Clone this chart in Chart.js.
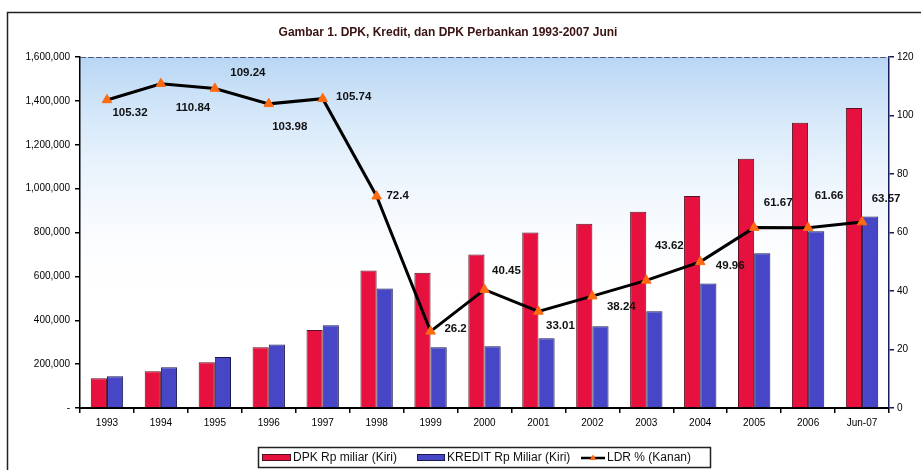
<!DOCTYPE html>
<html>
<head>
<meta charset="utf-8">
<script src="https://cdn.jsdelivr.net/npm/chart.js@4.4.1/dist/chart.umd.min.js"></script>
<style>
  html, body { margin: 0; padding: 0; background: #fff; }
  #wrap { width: 921px; height: 470px; }
</style>
</head>
<body>
<div id="wrap"><canvas id="myChart" width="921" height="470"></canvas></div>
<script>
// data
const labels = ['1993', '1994', '1995', '1996', '1997', '1998', '1999', '2000', '2001', '2002', '2003', '2004', '2005', '2006', 'Jun-07'];
const dpk = [136000, 168000, 209000, 277000, 355000, 627000, 616000, 700000, 800000, 840000, 895000, 966000, 1136000, 1300000, 1368000];
const kredit = [145000, 186000, 232000, 290000, 377000, 545000, 277000, 282000, 318000, 373000, 441000, 568000, 705000, 806000, 873000];
const ldr = [105.32, 110.84, 109.24, 103.98, 105.74, 72.4, 26.2, 40.45, 33.01, 38.24, 43.62, 49.96, 61.67, 61.66, 63.57];
const leftTicks = [0, 200000, 400000, 600000, 800000, 1000000, 1200000, 1400000, 1600000];
const rightTicks = [0, 20, 40, 60, 80, 100, 120];

// where each LDR label sits relative to its point (px)
const labelOffsets = [[23, 13], [32, 24], [33, -16], [21, 23], [31, -2], [21, 0], [25, -3], [22, -19],
                      [22, 14], [29, 11], [23, -35], [30, 4], [24, -25], [21, -32], [24, -23]];

const FONT = "'Liberation Sans', Arial, sans-serif";
const RED = '#e6113f';
const BLUE = '#4646c6';
const ORANGE = '#ff6a10';

const decoPlugin = {
    id: 'deco',
    beforeDraw(chart) {
        const ctx = chart.ctx;
        const a = chart.chartArea;
        ctx.save();
        ctx.fillStyle = '#fff';
        ctx.fillRect(0, 0, chart.width, chart.height);
        // plot background, blue at top fading out
        const g = ctx.createLinearGradient(0, a.top, 0, a.bottom);
        g.addColorStop(0, 'rgba(160,200,240,0.75)');
        g.addColorStop(0.25, 'rgba(200,225,248,0.55)');
        g.addColorStop(0.5, 'rgba(235,243,252,0.3)');
        g.addColorStop(0.7, 'rgba(255,255,255,0)');
        ctx.fillStyle = g;
        ctx.fillRect(a.left, a.top, a.right - a.left, a.bottom - a.top);
        // outer frame
        ctx.strokeStyle = '#222';
        ctx.lineWidth = 1.5;
        ctx.beginPath();
        ctx.moveTo(7.5, chart.height);
        ctx.lineTo(7.5, 12.5);
        ctx.lineTo(chart.width, 12.5);
        ctx.stroke();
        ctx.restore();
    },
    afterDraw(chart) {
        const ctx = chart.ctx;
        const a = chart.chartArea;
        ctx.save();
        // top edge of plot
        ctx.strokeStyle = '#4a5a78';
        ctx.lineWidth = 1.2;
        ctx.setLineDash([6, 2]);
        ctx.beginPath();
        ctx.moveTo(a.left, a.top + 0.5);
        ctx.lineTo(a.right, a.top + 0.5);
        ctx.stroke();
        ctx.setLineDash([]);

        // title
        ctx.fillStyle = '#3a1212';
        ctx.font = `bold 12px ${FONT}`;
        ctx.textAlign = 'center';
        ctx.textBaseline = 'middle';
        ctx.fillText('Gambar 1. DPK, Kredit, dan DPK Perbankan 1993-2007 Juni', 448, 33);

        // legend
        ctx.strokeStyle = '#222';
        ctx.lineWidth = 1.5;
        ctx.strokeRect(258.5, 447.5, 452, 20);
        ctx.font = `12px ${FONT}`;
        ctx.textAlign = 'left';
        ctx.lineWidth = 1;
        ctx.fillStyle = RED;
        ctx.fillRect(262, 454, 28, 6);
        ctx.strokeStyle = '#501020';
        ctx.strokeRect(262.5, 454.5, 28, 6);
        ctx.fillStyle = '#111';
        ctx.fillText('DPK Rp miliar (Kiri)', 293, 458);
        ctx.fillStyle = BLUE;
        ctx.fillRect(417, 454, 27, 6);
        ctx.strokeStyle = '#1a1a50';
        ctx.strokeRect(417.5, 454.5, 27, 6);
        ctx.fillStyle = '#111';
        ctx.fillText('KREDIT Rp Miliar (Kiri)', 447, 458);
        ctx.strokeStyle = '#000';
        ctx.lineWidth = 2.5;
        ctx.beginPath();
        ctx.moveTo(581, 458);
        ctx.lineTo(605, 458);
        ctx.stroke();
        ctx.fillStyle = ORANGE;
        ctx.beginPath();
        ctx.moveTo(593, 454.5);
        ctx.lineTo(596.5, 460);
        ctx.lineTo(589.5, 460);
        ctx.closePath();
        ctx.fill();
        ctx.fillStyle = '#111';
        ctx.fillText('LDR % (Kanan)', 607, 458);
        ctx.restore();
    },
    afterDatasetsDraw(chart) {
        const ctx = chart.ctx;
        const meta = chart.getDatasetMeta(2);
        ctx.save();
        ctx.font = `bold 11.5px ${FONT}`;
        ctx.fillStyle = '#111';
        ctx.textAlign = 'center';
        ctx.textBaseline = 'middle';
        meta.data.forEach((pt, i) => {
            const off = labelOffsets[i];
            ctx.fillText(String(ldr[i]), pt.x + off[0], pt.y + off[1]);
        });
        ctx.restore();
    }
};

const tickFont = { family: FONT, size: 10 };

const ctx = document.getElementById('myChart').getContext('2d');
const myChart = new Chart(ctx, {
    data: {
        labels: labels,
        datasets: [{
            type: 'bar',
            label: 'DPK Rp miliar (Kiri)',
            data: dpk,
            backgroundColor: RED,
            borderColor: '#5a1020',
            borderWidth: 1,
            yAxisID: 'y',
            categoryPercentage: 0.6,
            barPercentage: 1.0,
            order: 2
        }, {
            type: 'bar',
            label: 'KREDIT Rp Miliar (Kiri)',
            data: kredit,
            backgroundColor: BLUE,
            borderColor: '#1a1a50',
            borderWidth: 1,
            yAxisID: 'y',
            categoryPercentage: 0.6,
            barPercentage: 1.0,
            order: 2
        }, {
            type: 'line',
            label: 'LDR % (Kanan)',
            data: ldr,
            borderColor: '#000',
            borderWidth: 3,
            pointStyle: 'triangle',
            pointRadius: 5.5,
            pointBackgroundColor: ORANGE,
            pointBorderColor: ORANGE,
            pointBorderWidth: 1,
            tension: 0,
            yAxisID: 'y1',
            order: 1
        }]
    },
    options: {
        responsive: false,
        animation: false,
        layout: { padding: { top: 57, left: 0, right: 0, bottom: 0 } },
        plugins: {
            legend: { display: false },
            title: { display: false },
            tooltip: { enabled: false }
        },
        scales: {
            x: {
                grid: { drawOnChartArea: false, drawTicks: true, tickLength: 5, color: '#000', lineWidth: 1.5 },
                border: { color: '#000', width: 2 },
                ticks: { font: tickFont, color: '#000', padding: 4, maxRotation: 0, autoSkip: false },
                afterFit(scale) { scale.height = 62; }
            },
            y: {
                position: 'left',
                min: 0,
                max: 1600000,
                afterBuildTicks(scale) { scale.ticks = leftTicks.map(v => ({ value: v })); },
                grid: { drawOnChartArea: false, tickLength: 5, color: '#000', lineWidth: 1.5 },
                border: { color: '#000', width: 1.5 },
                ticks: {
                    font: tickFont,
                    color: '#000',
                    padding: 5,
                    callback: v => v === 0 ? '-' : v.toLocaleString('en-US')
                },
                afterFit(scale) { scale.width = 80; }
            },
            y1: {
                position: 'right',
                min: 0,
                max: 120,
                afterBuildTicks(scale) { scale.ticks = rightTicks.map(v => ({ value: v })); },
                grid: { drawOnChartArea: false, tickLength: 5, color: '#1a1a50', lineWidth: 1.5 },
                border: { color: '#1a1a60', width: 1.5 },
                ticks: { font: tickFont, color: '#000', padding: 3 },
                afterFit(scale) { scale.width = 32; }
            }
        }
    },
    plugins: [decoPlugin]
});
</script>
</body>
</html>
